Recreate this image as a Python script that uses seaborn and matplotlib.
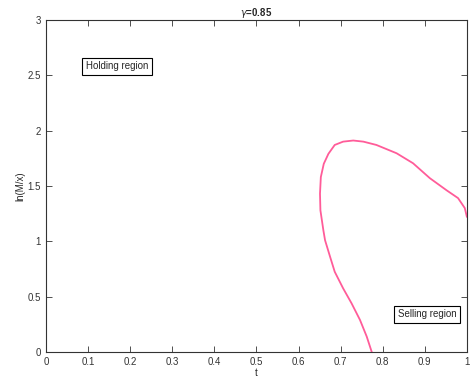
import matplotlib
matplotlib.use("Agg")
import matplotlib.pyplot as plt
import seaborn as sns
import pandas as pd

# boundary curve (t, ln(M/x)) traced from bottom end to right edge
t_vals = [0.774, 0.762, 0.746, 0.726, 0.706, 0.686, 0.675, 0.663, 0.659, 0.652, 0.651,
          0.653, 0.660, 0.671, 0.686, 0.706, 0.730, 0.754, 0.785, 0.817, 0.833, 0.872,
          0.912, 0.952, 0.979, 0.995, 1.000]
y_vals = [0.00, 0.14, 0.29, 0.44, 0.575, 0.725, 0.86, 1.01, 1.10, 1.28, 1.43,
          1.58, 1.70, 1.79, 1.87, 1.90, 1.91, 1.90, 1.87, 1.82, 1.795, 1.705,
          1.57, 1.46, 1.39, 1.30, 1.22]
x_ticks = [0, 0.1, 0.2, 0.3, 0.4, 0.5, 0.6, 0.7, 0.8, 0.9, 1]
x_tick_labels = ["0", "0.1", "0.2", "0.3", "0.4", "0.5", "0.6", "0.7", "0.8", "0.9", "1"]
y_ticks = [0, 0.5, 1, 1.5, 2, 2.5, 3]
y_tick_labels = ["0", "0.5", "1", "1.5", "2", "2.5", "3"]

sns.set_style("white")
plt.rcParams['font.family'] = ['Liberation Sans', 'DejaVu Sans']

fig = plt.figure(figsize=(4.74, 3.81), dpi=100)
ax = fig.add_axes([0.097, 0.076, 0.888, 0.872])

df = pd.DataFrame({"t": t_vals, "y": y_vals})
sns.lineplot(data=df, x="t", y="y", sort=False, estimator=None, color="#ff5c99",
             lw=1.3, ax=ax, solid_joinstyle="round", solid_capstyle="round")

ax.set_xlim(0, 1)
ax.set_ylim(0, 3)
ax.set_xticks(x_ticks)
ax.set_xticklabels(x_tick_labels)
ax.set_yticks(y_ticks)
ax.set_yticklabels(y_tick_labels)
ax.tick_params(direction="in", length=4, width=0.6, labelsize=7, colors="#333333",
               top=True, right=True, bottom=True, left=True)
for sp in ax.spines.values():
    sp.set_color("#333333")
    sp.set_linewidth(0.8)
ax.set_xlabel("t", fontsize=7, labelpad=1)
ax.set_ylabel("ln(M/x)", fontsize=7, labelpad=2)
ax.set_title(r"$\gamma$=0.85", fontsize=7, fontweight="bold", pad=3)

box = dict(boxstyle="square,pad=0.38", fc="white", ec="black", lw=0.8)
ax.text(0.169, 2.58, "Holding region", fontsize=7, ha="center", va="center", bbox=box)
ax.text(0.906, 0.34, "Selling region", fontsize=7, ha="center", va="center", bbox=box)

fig.savefig("out.png", dpi=100)
